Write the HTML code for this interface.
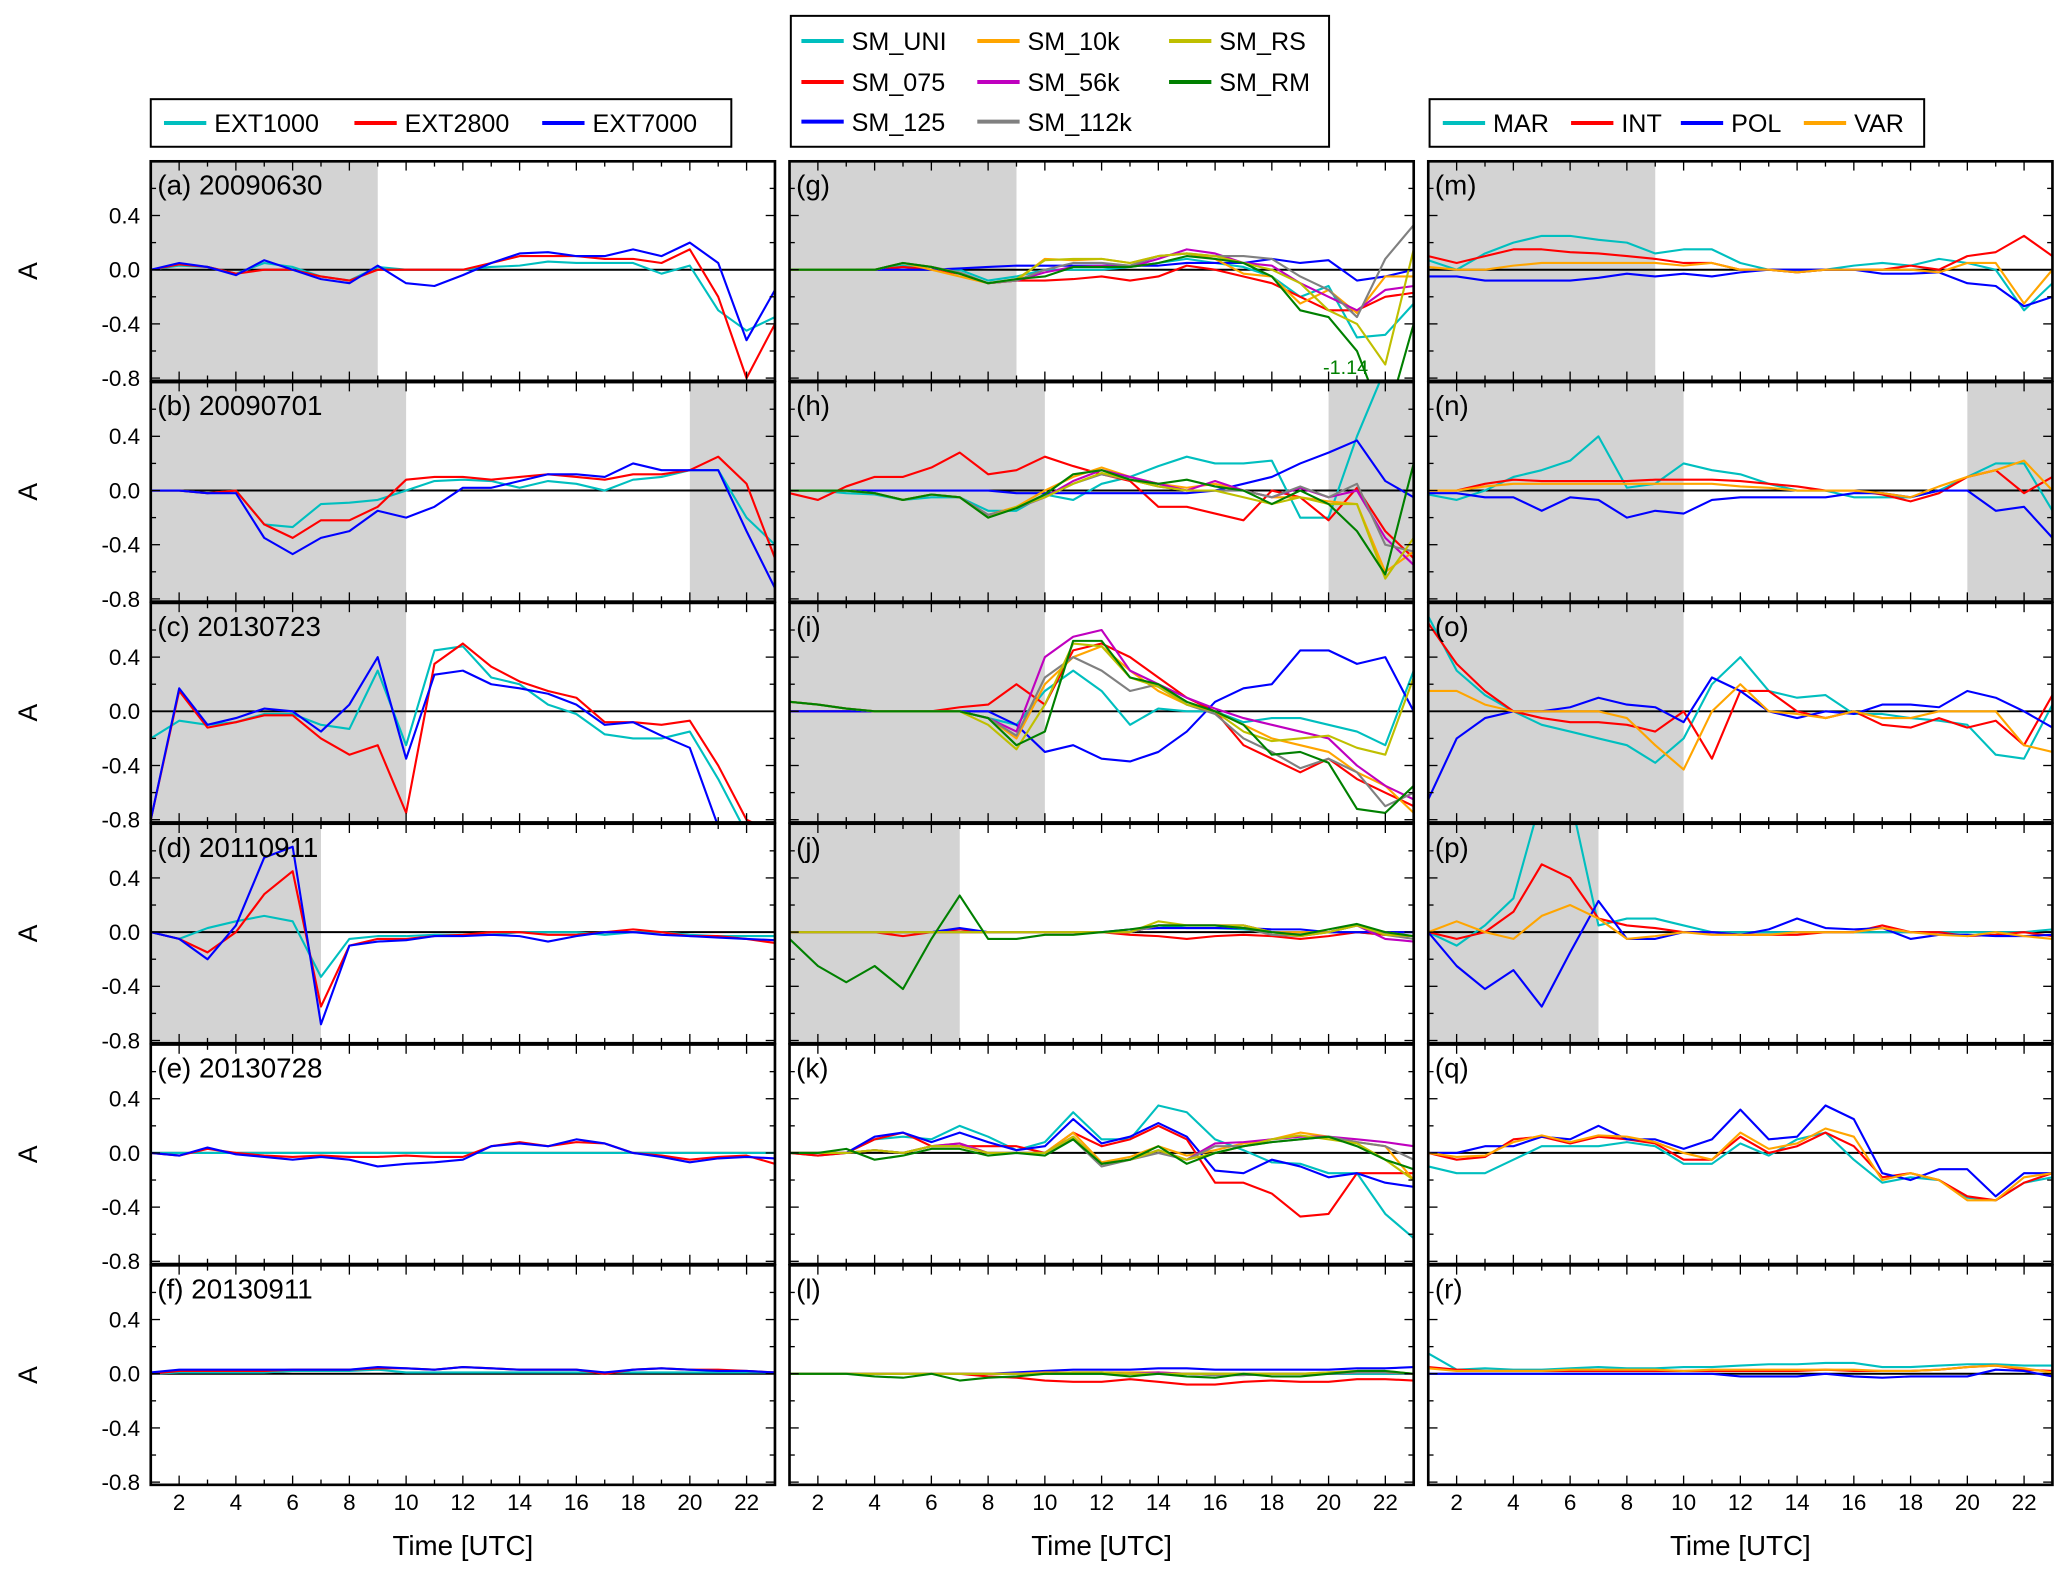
<!DOCTYPE html>
<html><head><meta charset="utf-8"><style>
html,body{margin:0;padding:0;background:#fff}
svg{display:block;font-family:"Liberation Sans",sans-serif}
</style></head><body>
<svg id="fig" width="2067" height="1584" viewBox="0 0 1563 1198" preserveAspectRatio="none" xmlns="http://www.w3.org/2000/svg"></svg>
<script>
const hours=[1,2,3,4,5,6,7,8,9,10,11,12,13,14,15,16,17,18,19,20,21,22,23];
const xTicks=[2,4,6,8,10,12,14,16,18,20,22];
const yTicks=[-0.8,-0.4,0.0,0.4];
const yTickLabels=["-0.8","-0.4","0.0","0.4"];
const col1Names=["EXT1000","EXT2800","EXT7000"];
const col2Names=["SM_UNI","SM_075","SM_125","SM_10k","SM_56k","SM_112k","SM_RS","SM_RM"];
const col3Names=["MAR","INT","POL","VAR"];
const col1Colors=["#00bfbf","#ff0000","#0000ff"];
const col2Colors=["#00bfbf","#ff0000","#0000ff","#ffa500","#bf00bf","#808080","#bfbf00","#008000"];
const col3Colors=["#00bfbf","#ff0000","#0000ff","#ffa500"];
const panelLabels=[["(a) 20090630","(b) 20090701","(c) 20130723","(d) 20110911","(e) 20130728","(f) 20130911"],["(g)","(h)","(i)","(j)","(k)","(l)"],["(m)","(n)","(o)","(p)","(q)","(r)"]];
const nightRanges=[[[1,9]],[[1,10],[20,23]],[[1,10]],[[1,7]],[],[]];
// column 1
const a_ext1000=[0,0.03,0.02,-0.03,0.05,0.02,-0.05,-0.08,0.02,0,0,0,0.02,0.03,0.06,0.05,0.05,0.05,-0.03,0.03,-0.3,-0.45,-0.35];
const a_ext2800=[0,0.04,0.02,-0.03,0,0,-0.05,-0.08,0,0,0,0,0.05,0.1,0.1,0.1,0.08,0.08,0.05,0.15,-0.2,-0.8,-0.4];
const a_ext7000=[0,0.05,0.02,-0.04,0.07,0,-0.07,-0.1,0.03,-0.1,-0.12,-0.04,0.05,0.12,0.13,0.1,0.1,0.15,0.1,0.2,0.05,-0.52,-0.15];
const b_ext1000=[0,0,-0.02,0,-0.25,-0.27,-0.1,-0.09,-0.07,0,0.07,0.08,0.07,0.02,0.07,0.05,0,0.08,0.1,0.15,0.15,-0.2,-0.4];
const b_ext2800=[0,0,-0.02,0,-0.25,-0.35,-0.22,-0.22,-0.12,0.08,0.1,0.1,0.08,0.1,0.12,0.1,0.08,0.12,0.12,0.15,0.25,0.05,-0.5];
const b_ext7000=[0,0,-0.02,-0.02,-0.35,-0.47,-0.35,-0.3,-0.15,-0.2,-0.12,0.02,0.02,0.07,0.12,0.12,0.1,0.2,0.15,0.15,0.15,-0.3,-0.72];
const c_ext1000=[-0.2,-0.07,-0.1,-0.08,-0.02,-0.02,-0.1,-0.13,0.3,-0.25,0.45,0.48,0.25,0.2,0.05,-0.02,-0.17,-0.2,-0.2,-0.15,-0.5,-0.9,-0.9];
const c_ext2800=[-0.8,0.15,-0.12,-0.08,-0.03,-0.03,-0.2,-0.32,-0.25,-0.75,0.35,0.5,0.33,0.22,0.15,0.1,-0.08,-0.08,-0.1,-0.07,-0.4,-0.8,-0.9];
const c_ext7000=[-0.8,0.17,-0.1,-0.05,0.02,0,-0.15,0.05,0.4,-0.35,0.27,0.3,0.2,0.17,0.13,0.05,-0.1,-0.08,-0.18,-0.27,-0.85,-0.9,-0.9];
const d_ext1000=[0,-0.05,0.03,0.08,0.12,0.08,-0.33,-0.05,-0.03,-0.03,-0.02,-0.02,-0.02,0,0,0,-0.02,0,0,-0.02,-0.03,-0.03,-0.03];
const d_ext2800=[0,-0.05,-0.15,0,0.28,0.45,-0.55,-0.1,-0.05,-0.05,-0.03,-0.02,0,0,-0.02,-0.02,0,0.02,0,-0.03,-0.03,-0.05,-0.08];
const d_ext7000=[0,-0.05,-0.2,0.05,0.55,0.63,-0.68,-0.1,-0.07,-0.06,-0.03,-0.03,-0.02,-0.03,-0.07,-0.03,0,0,-0.02,-0.03,-0.04,-0.05,-0.06];
const e_ext1000=[0,0,0,0,0,0,0,0,0,0,0,0,0,0,0,0,0,0,0,0,0,0,0];
const e_ext2800=[0,-0.02,0.03,0,-0.02,-0.03,-0.02,-0.03,-0.03,-0.02,-0.03,-0.03,0.05,0.08,0.05,0.08,0.07,0,-0.02,-0.05,-0.03,-0.02,-0.08];
const e_ext7000=[0,-0.02,0.04,-0.01,-0.03,-0.05,-0.03,-0.05,-0.1,-0.08,-0.07,-0.05,0.05,0.07,0.05,0.1,0.07,0,-0.03,-0.07,-0.04,-0.03,-0.04];
const f_ext1000=[0,0.01,0.01,0.01,0.01,0.02,0.02,0.02,0.03,0.01,0.01,0.01,0.01,0.01,0.01,0.01,0.01,0.01,0.01,0.01,0.01,0.01,0.01];
const f_ext2800=[0,0.02,0.02,0.02,0.02,0.03,0.03,0.03,0.04,0.04,0.03,0.05,0.04,0.03,0.03,0.03,0,0.03,0.04,0.03,0.03,0.02,0.01];
const f_ext7000=[0.01,0.03,0.03,0.03,0.03,0.03,0.03,0.03,0.05,0.04,0.03,0.05,0.04,0.03,0.03,0.03,0.01,0.03,0.04,0.03,0.02,0.02,0.01];
// column 2
const g_uni=[0,0,0,0,0.03,0,0,-0.08,-0.05,0,0,0,0.02,0.05,0.08,0.05,0.02,-0.05,-0.2,-0.12,-0.5,-0.48,-0.25];
const g_075=[0,0,0,0,0.02,0,-0.03,-0.1,-0.08,-0.08,-0.07,-0.05,-0.08,-0.05,0.03,0,-0.05,-0.1,-0.2,-0.3,-0.3,-0.2,-0.17];
const g_125=[0,0,0,0,0,0,0.01,0.02,0.03,0.03,0.03,0.03,0.03,0.03,0.05,0.05,0.05,0.08,0.05,0.07,-0.08,-0.05,0];
const g_10k=[0,0,0,0,0.05,0,-0.05,-0.1,-0.08,0.08,0.07,0.08,0.05,0.1,0.12,0.08,-0.03,-0.05,-0.25,-0.15,-0.32,-0.05,-0.05];
const g_56k=[0,0,0,0,0.05,0.02,-0.03,-0.1,-0.08,-0.02,0.02,0.03,0.02,0.08,0.15,0.12,0.05,0.03,-0.1,-0.2,-0.3,-0.15,-0.12];
const g_112k=[0,0,0,0,0.05,0.02,-0.02,-0.1,-0.08,0,0.05,0.05,0.03,0.1,0.12,0.1,0.1,0.08,-0.05,-0.15,-0.35,0.08,0.33];
const g_rs=[0,0,0,0,0.05,0.02,-0.03,-0.1,-0.07,0.07,0.08,0.08,0.05,0.1,0.12,0.1,0.05,0,-0.1,-0.3,-0.4,-0.7,0.15];
const g_rm=[0,0,0,0,0.05,0.02,-0.03,-0.1,-0.07,-0.05,0.02,0.02,0.02,0.05,0.1,0.08,0.05,-0.05,-0.3,-0.35,-0.6,-1.14,-0.4];
const h_uni=[0,0,-0.02,-0.03,-0.07,-0.05,-0.05,-0.15,-0.15,-0.03,-0.07,0.05,0.1,0.18,0.25,0.2,0.2,0.22,-0.2,-0.2,0.4,0.9,0.9];
const h_075=[-0.02,-0.07,0.03,0.1,0.1,0.17,0.28,0.12,0.15,0.25,0.18,0.12,0.07,-0.12,-0.12,-0.17,-0.22,0,-0.05,-0.22,0.02,-0.3,-0.5];
const h_125=[0,0,0,0,0,0,0,0,-0.02,-0.02,-0.02,-0.02,-0.02,-0.02,-0.02,0,0.05,0.1,0.2,0.28,0.37,0.07,-0.05];
const h_10k=[0,0,0,-0.02,-0.07,-0.03,-0.05,-0.18,-0.12,0,0.1,0.17,0.1,0.05,0.02,0.05,0,-0.05,-0.05,-0.08,-0.1,-0.6,-0.45];
const h_56k=[0,0,0,-0.02,-0.07,-0.03,-0.05,-0.18,-0.13,-0.05,0.07,0.15,0.1,0.05,0,0.07,0,-0.05,0.02,-0.05,0,-0.35,-0.55];
const h_112k=[0,0,0,-0.02,-0.07,-0.03,-0.05,-0.18,-0.13,-0.05,0.05,0.12,0.08,0.03,0,0,0,-0.05,0.03,-0.05,0.05,-0.4,-0.45];
const h_rs=[0,0,0,-0.02,-0.07,-0.03,-0.05,-0.2,-0.12,-0.05,0.05,0.13,0.08,0.03,0,0,-0.05,-0.1,-0.05,-0.1,-0.1,-0.65,-0.35];
const h_rm=[0,0,0,-0.02,-0.07,-0.03,-0.05,-0.2,-0.13,-0.03,0.12,0.15,0.08,0.05,0.08,0.03,0,-0.1,0,-0.1,-0.3,-0.62,0.2];
const i_uni=[0,0,0,0,0,0,0,-0.05,-0.1,0.15,0.3,0.15,-0.1,0.02,0,0,-0.08,-0.05,-0.05,-0.1,-0.15,-0.25,0.3];
const i_075=[0,0,0,0,0,0,0.03,0.05,0.2,0.05,0.45,0.5,0.4,0.25,0.1,0,-0.25,-0.35,-0.45,-0.35,-0.5,-0.6,-0.7];
const i_125=[0,0,0,0,0,0,0,0,-0.1,-0.3,-0.25,-0.35,-0.37,-0.3,-0.15,0.07,0.17,0.2,0.45,0.45,0.35,0.4,0];
const i_10k=[0.07,0.05,0.02,0,0,0,0,-0.05,-0.2,0.2,0.4,0.48,0.3,0.15,0.05,0,-0.1,-0.2,-0.25,-0.3,-0.45,-0.55,-0.75];
const i_56k=[0.07,0.05,0.02,0,0,0,0,-0.05,-0.15,0.4,0.55,0.6,0.3,0.2,0.1,0.02,-0.05,-0.1,-0.15,-0.2,-0.4,-0.55,-0.65];
const i_112k=[0.07,0.05,0.02,0,0,0,0,-0.05,-0.18,0.25,0.4,0.3,0.15,0.2,0.05,-0.02,-0.2,-0.3,-0.42,-0.35,-0.45,-0.7,-0.6];
const i_rs=[0.07,0.05,0.02,0,0,0,0,-0.1,-0.28,0.05,0.5,0.48,0.25,0.18,0.05,0,-0.15,-0.22,-0.2,-0.18,-0.27,-0.32,0.25];
const i_rm=[0.07,0.05,0.02,0,0,0,0,-0.05,-0.25,-0.15,0.52,0.52,0.25,0.2,0.07,0,-0.1,-0.32,-0.3,-0.38,-0.72,-0.75,-0.55];
const j_uni=[0,0,0,0,0,0,0.02,0,0,0,0,0,0,0.05,0.03,0.03,0.02,0,0,0,0,-0.02,-0.03];
const j_075=[0,0,0,0,-0.03,0,0.02,0,0,0,0,0,-0.02,-0.03,-0.05,-0.03,-0.02,-0.03,-0.05,-0.03,0,-0.02,-0.03];
const j_125=[0,0,0,0,0,0,0.03,0,0,0,0,0,0.02,0.03,0.03,0.03,0.03,0.02,0.02,0,0,0,0];
const j_10k=[0,0,0,0,0,0,0,0,0,0,0,0,0,0.05,0.05,0.05,0.05,0,0,0,0.05,0,-0.03];
const j_56k=[0,0,0,0,0,0,0,0,0,0,0,0,0,0.05,0.05,0.05,0.05,0,-0.02,0,0.05,-0.05,-0.07];
const j_112k=[0,0,0,0,0,0,0,0,0,0,0,0,0,0.05,0.05,0.05,0.03,-0.02,-0.03,0,0.05,-0.02,-0.05];
const j_rs=[0,0,0,0,0,0,0,0,0,0,0,0,0,0.08,0.05,0.05,0.05,0,-0.03,0,0.05,-0.02,-0.03];
const j_rm=[-0.05,-0.25,-0.37,-0.25,-0.42,-0.05,0.27,-0.05,-0.05,-0.02,-0.02,0,0.02,0.05,0.05,0.05,0.03,0,-0.02,0.02,0.06,0,-0.03];
const k_uni=[0,-0.02,0,0.1,0.12,0.1,0.2,0.12,0.02,0.08,0.3,0.1,0.1,0.35,0.3,0.1,0.02,-0.07,-0.08,-0.15,-0.15,-0.45,-0.63];
const k_075=[0,-0.02,0,0.1,0.15,0.05,0.05,0.05,0.05,0,0.15,0.05,0.1,0.2,0.1,-0.22,-0.22,-0.3,-0.47,-0.45,-0.15,-0.15,-0.15];
const k_125=[0,0,0,0.12,0.15,0.08,0.15,0.08,0.02,0.05,0.25,0.07,0.12,0.22,0.12,-0.13,-0.15,-0.05,-0.1,-0.18,-0.15,-0.22,-0.25];
const k_10k=[0,0,0,0.02,0,0.05,0.07,0,0,0,0.15,-0.07,-0.03,0.05,-0.02,0.02,0.07,0.1,0.15,0.12,0.08,0.05,-0.2];
const k_56k=[0,0,0,0.02,0,0.05,0.07,0,0,0,0.12,-0.08,-0.05,0.02,-0.05,0.07,0.08,0.1,0.12,0.12,0.1,0.08,0.05];
const k_112k=[0,0,0,0.02,0,0.05,0.05,0,0,0,0.1,-0.1,-0.05,0,-0.05,0.05,0.05,0.08,0.1,0.12,0.08,0.05,-0.05];
const k_rs=[0,0,0,0.02,0,0.05,0.05,0,0,0,0.12,-0.08,-0.05,0.02,-0.05,0,0.05,0.1,0.13,0.1,0.07,-0.05,-0.2];
const k_rm=[0,0,0.03,-0.05,-0.02,0.03,0.03,-0.02,0,-0.02,0.1,-0.08,-0.05,0.05,-0.08,0,0.05,0.08,0.1,0.12,0.05,-0.05,-0.12];
const l_uni=[0,0,0,0,0,0,0,0,0,0,0,0,0,0,0,0,0,0,0,0,0,0,0];
const l_075=[0,0,0,0,0,0,0,-0.02,-0.03,-0.05,-0.06,-0.06,-0.04,-0.06,-0.08,-0.08,-0.06,-0.05,-0.06,-0.06,-0.04,-0.04,-0.05];
const l_125=[0,0,0,0,0,0,0,0,0.01,0.02,0.03,0.03,0.03,0.04,0.04,0.03,0.03,0.03,0.03,0.03,0.04,0.04,0.05];
const l_10k=[0,0,0,0,0,0,0,0,0,0.01,0.01,0.01,0.01,0.01,0,0,0,0,0,0.01,0.01,0.01,0];
const l_56k=[0,0,0,0,0,0,0,0,0,0,0.01,0.01,0,0.01,0,-0.01,-0.01,0,0,0,0.01,0.01,0];
const l_112k=[0,0,0,0,0,0,0,0,0,0,0,0.01,0,0,0,-0.01,-0.01,0,0,0,0.01,0.01,0];
const l_rs=[0,0,0,0,0,0,0,0,0,0,0.01,0.01,0,0,0,0,0,0,0,0.01,0.02,0.02,0];
const l_rm=[0,0,0,-0.02,-0.03,0,-0.05,-0.03,-0.02,0,0,0,-0.02,0,-0.02,-0.03,0,-0.02,-0.02,0,0.02,0.02,0];
// column 3
const m_mar=[0.07,0,0.12,0.2,0.25,0.25,0.22,0.2,0.12,0.15,0.15,0.05,0,-0.02,0,0.03,0.05,0.03,0.08,0.05,0,-0.3,-0.1];
const m_int=[0.1,0.05,0.1,0.15,0.15,0.13,0.12,0.1,0.08,0.05,0.05,0,0,-0.02,0,0,0,0.03,0,0.1,0.13,0.25,0.1];
const m_pol=[-0.05,-0.05,-0.08,-0.08,-0.08,-0.08,-0.06,-0.03,-0.05,-0.03,-0.05,-0.02,0,0,0,0,-0.03,-0.03,-0.02,-0.1,-0.12,-0.27,-0.2];
const m_var=[0.02,0,0,0.03,0.05,0.05,0.05,0.05,0.05,0.03,0.05,0,0,-0.02,0,0,0,0,-0.02,0.05,0.05,-0.25,0];
const n_mar=[-0.03,-0.07,0,0.1,0.15,0.22,0.4,0.02,0.05,0.2,0.15,0.12,0.05,0,0,-0.05,-0.05,-0.05,0,0.1,0.2,0.2,-0.15];
const n_int=[0,0,0.05,0.08,0.07,0.07,0.07,0.07,0.08,0.08,0.08,0.07,0.05,0.03,0,0,-0.03,-0.08,-0.02,0.1,0.15,-0.02,0.1];
const n_pol=[-0.02,-0.02,-0.05,-0.05,-0.15,-0.05,-0.07,-0.2,-0.15,-0.17,-0.07,-0.05,-0.05,-0.05,-0.05,-0.02,-0.02,-0.05,0,0,-0.15,-0.12,-0.35];
const n_var=[0,0,0.03,0.05,0.05,0.05,0.05,0.05,0.05,0.05,0.05,0.03,0.02,0,0,0,-0.02,-0.05,0.03,0.1,0.15,0.22,0];
const o_mar=[0.7,0.3,0.12,0,-0.1,-0.15,-0.2,-0.25,-0.38,-0.2,0.2,0.4,0.15,0.1,0.12,-0.02,-0.02,-0.05,-0.07,-0.1,-0.32,-0.35,0.05];
const o_int=[0.65,0.35,0.15,0,-0.05,-0.08,-0.08,-0.1,-0.15,0,-0.35,0.15,0.15,0,-0.05,0,-0.1,-0.12,-0.05,-0.12,-0.07,-0.25,0.12];
const o_pol=[-0.65,-0.2,-0.05,0,0,0.03,0.1,0.05,0.03,-0.08,0.25,0.15,0,-0.05,0,-0.02,0.05,0.05,0.03,0.15,0.1,0,-0.12];
const o_var=[0.15,0.15,0.05,0,0,0,0,-0.05,-0.25,-0.43,0,0.2,0,-0.02,-0.05,0,-0.05,-0.05,0,0,0,-0.25,-0.3];
const p_mar=[0,-0.1,0.05,0.25,1.0,1.0,0.05,0.1,0.1,0.05,0,0,0,0,0,0,0,0,0,0,0,0,0.02];
const p_int=[0,-0.05,0,0.15,0.5,0.4,0.1,0.05,0.03,0,0,-0.02,-0.02,-0.02,0,0,0.05,0,0,-0.03,-0.02,0,-0.03];
const p_pol=[0,-0.25,-0.42,-0.28,-0.55,-0.15,0.23,-0.05,-0.05,0,0,-0.02,0.02,0.1,0.03,0.02,0.03,-0.05,-0.02,-0.02,-0.03,-0.03,-0.02];
const p_var=[0,0.08,0,-0.05,0.12,0.2,0.1,-0.05,-0.03,0,-0.02,-0.02,-0.02,0,0,0,0.03,0,-0.02,-0.03,0,-0.03,-0.05];
const q_mar=[-0.1,-0.15,-0.15,-0.05,0.05,0.05,0.05,0.08,0.05,-0.08,-0.08,0.07,-0.02,0.1,0.15,-0.05,-0.22,-0.18,-0.2,-0.33,-0.35,-0.22,-0.18];
const q_int=[0,-0.05,-0.03,0.1,0.12,0.07,0.12,0.1,0.07,-0.05,-0.05,0.12,0,0.05,0.15,0.05,-0.18,-0.15,-0.2,-0.32,-0.35,-0.22,-0.15];
const q_pol=[0,0,0.05,0.05,0.12,0.1,0.2,0.1,0.1,0.03,0.1,0.32,0.1,0.12,0.35,0.25,-0.15,-0.2,-0.12,-0.12,-0.32,-0.15,-0.15];
const q_var=[0,-0.03,-0.02,0.08,0.13,0.08,0.13,0.12,0.08,0,-0.05,0.15,0.03,0.07,0.18,0.12,-0.2,-0.15,-0.2,-0.35,-0.35,-0.18,-0.15];
const r_mar=[0.15,0.03,0.04,0.03,0.03,0.04,0.05,0.04,0.04,0.05,0.05,0.06,0.07,0.07,0.08,0.08,0.05,0.05,0.06,0.07,0.07,0.06,0.06];
const r_int=[0.05,0.03,0.02,0.02,0.02,0.02,0.02,0.02,0.02,0.02,0.02,0.02,0.02,0.02,0.03,0.02,0.02,0.02,0.03,0.05,0.06,0.03,0.02];
const r_pol=[0,0,0,0,0,0,0,0,0,0,0,-0.02,-0.02,-0.02,0,-0.02,-0.03,-0.02,-0.02,-0.02,0.03,0.02,-0.02];
const r_var=[0.04,0.02,0.02,0.02,0.02,0.03,0.03,0.03,0.03,0.02,0.03,0.03,0.03,0.03,0.03,0.03,0.02,0.02,0.03,0.05,0.06,0.04,0.01];

const colData=[
 [[a_ext1000,a_ext2800,a_ext7000],[b_ext1000,b_ext2800,b_ext7000],[c_ext1000,c_ext2800,c_ext7000],[d_ext1000,d_ext2800,d_ext7000],[e_ext1000,e_ext2800,e_ext7000],[f_ext1000,f_ext2800,f_ext7000]],
 [[g_uni,g_075,g_125,g_10k,g_56k,g_112k,g_rs,g_rm],[h_uni,h_075,h_125,h_10k,h_56k,h_112k,h_rs,h_rm],[i_uni,i_075,i_125,i_10k,i_56k,i_112k,i_rs,i_rm],[j_uni,j_075,j_125,j_10k,j_56k,j_112k,j_rs,j_rm],[k_uni,k_075,k_125,k_10k,k_56k,k_112k,k_rs,k_rm],[l_uni,l_075,l_125,l_10k,l_56k,l_112k,l_rs,l_rm]],
 [[m_mar,m_int,m_pol,m_var],[n_mar,n_int,n_pol,n_var],[o_mar,o_int,o_pol,o_var],[p_mar,p_int,p_pol,p_var],[q_mar,q_int,q_pol,q_var],[r_mar,r_int,r_pol,r_var]]
];
const colColors=[col1Colors,col2Colors,col3Colors];
const colNames=[col1Names,col2Names,col3Names];

const NS="http://www.w3.org/2000/svg";
const svg=document.getElementById('fig');
function mk(tag,attrs,parent){const e=document.createElementNS(NS,tag);for(const k in attrs)e.setAttribute(k,attrs[k]);(parent||svg).appendChild(e);return e;}
const colX=[114,597,1080], PW=472, rowY=[122,289,456,623,790,957], PH=166;
const X0=1,X1=23,Y0=-0.82,Y1=0.80;
const defs=mk('defs',{});
for(let c=0;c<3;c++){
 for(let r=0;r<6;r++){
  const px=colX[c],py=rowY[r];
  const sx=v=>px+(v-X0)/(X1-X0)*PW;
  const sy=v=>py+PH-(v-Y0)/(Y1-Y0)*PH;
  const g=mk('g',{});
  
  
  const cid='clip'+c+'_'+r;
  const cp=mk('clipPath',{id:cid},defs);mk('rect',{x:px,y:py,width:PW,height:PH},cp);
  for(const rg of nightRanges[r]){
   const sh=mk('rect',{x:sx(rg[0]),y:py,width:sx(rg[1])-sx(rg[0]),height:PH,fill:'#d3d3d3'},g);
   
   
  }
  const zl=mk('line',{x1:px,x2:px+PW,y1:sy(0),y2:sy(0),stroke:'#000','stroke-width':1.5},g);
  
  
  const lines=mk('g',{'clip-path':'url(#'+cid+')'},g);
  colData[c][r].forEach((ser,si)=>{
   const pts=ser.map((v,i)=>sx(hours[i]).toFixed(1)+','+sy(v).toFixed(1)).join(' ');
   const pl=mk('polyline',{points:pts,fill:'none',stroke:colColors[c][si],'stroke-width':1.6,'stroke-linejoin':'round'},lines);
   
   
  });
  for(let h=1;h<=23;h++){const L=(h%2===0)?7:4;
   mk('line',{x1:sx(h),x2:sx(h),y1:py+PH,y2:py+PH-L,stroke:'#000','stroke-width':1},g);
   mk('line',{x1:sx(h),x2:sx(h),y1:py,y2:py+L,stroke:'#000','stroke-width':1},g);}
  for(let v=-0.8;v<=0.8;v+=0.2){const major=Math.abs(Math.round(v*10))%4===0;const L=major?7:4;
   mk('line',{x1:px,x2:px+L,y1:sy(v),y2:sy(v),stroke:'#000','stroke-width':1},g);
   mk('line',{x1:px+PW,x2:px+PW-L,y1:sy(v),y2:sy(v),stroke:'#000','stroke-width':1},g);}
  const fr=mk('rect',{x:px,y:py,width:PW,height:PH,fill:'none',stroke:'#000','stroke-width':2},g);
  
  
  const lb=mk('text',{x:px+5,y:py+25,'font-size':21},g);lb.textContent=panelLabels[c][r];
  
  
  if(c===0){
   yTicks.forEach((v,i)=>{const t=mk('text',{x:px-8,y:sy(v)+6,'font-size':17,'text-anchor':'end'},g);t.textContent=yTickLabels[i];
    
    });
   const yl=mk('text',{x:28,y:py+PH/2,'font-size':20,'text-anchor':'middle',transform:'rotate(-90 28 '+(py+PH/2)+')'},g);yl.textContent='A';
   
   
  }
  if(c===1&&r===0){const an=mk('text',{x:sx(20.6),y:py+PH-5,'font-size':15,fill:'#008000','text-anchor':'middle'},g);an.textContent='-1.14';
   
   }
  if(r===5){
   xTicks.forEach(v=>{const t=mk('text',{x:sx(v),y:py+PH+19,'font-size':17,'text-anchor':'middle'},g);t.textContent=v;
    
    });
   const xl=mk('text',{x:px+PW/2,y:py+PH+53,'font-size':21,'text-anchor':'middle'},g);xl.textContent='Time [UTC]';
   
   
  }
 }
}
function legend(x,y,w,h,items,name){
 const g=mk('g',{});
 
 
 mk('rect',{x:x,y:y,width:w,height:h,fill:'#fff',stroke:'#000','stroke-width':1.5},g);
 items.forEach(it=>{
  const e=mk('g',{},g);
  
  
  mk('line',{x1:it[0],x2:it[0]+32,y1:it[1],y2:it[1],stroke:it[3],'stroke-width':3},e);
  const t=mk('text',{x:it[0]+38,y:it[1]+7,'font-size':19},e);t.textContent=it[2];
 });
}
legend(114,75,439,36,[[124,93,'EXT1000',col1Colors[0]],[268,93,'EXT2800',col1Colors[1]],[410,93,'EXT7000',col1Colors[2]]],'legend-ext');
legend(598,12,407,99,[[606,31,'SM_UNI',col2Colors[0]],[606,62,'SM_075',col2Colors[1]],[606,92,'SM_125',col2Colors[2]],
 [739,31,'SM_10k',col2Colors[3]],[739,62,'SM_56k',col2Colors[4]],[739,92,'SM_112k',col2Colors[5]],
 [884,31,'SM_RS',col2Colors[6]],[884,62,'SM_RM',col2Colors[7]]],'legend-sm');
legend(1081,75,374,36,[[1091,93,'MAR',col3Colors[0]],[1188,93,'INT',col3Colors[1]],[1271,93,'POL',col3Colors[2]],[1364,93,'VAR',col3Colors[3]]],'legend-region');
</script>
</body></html>
